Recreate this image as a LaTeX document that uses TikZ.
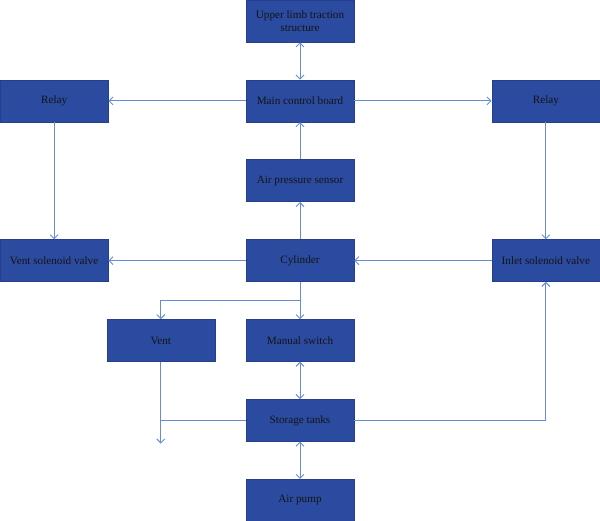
\documentclass[tikz,border=0pt]{standalone}
\usepackage{fontspec}
\setmainfont{Liberation Serif}
\usetikzlibrary{arrows.meta,positioning,calc}
\definecolor{boxblue}{RGB}{43,75,160}
\definecolor{boxedge}{RGB}{38,62,140}
\definecolor{linkblue}{RGB}{104,140,212}
\tikzset{
  blk/.style={rectangle, draw=boxedge, fill=boxblue, align=center, font=\fontsize{8.4pt}{10pt}\selectfont, text=black!92, minimum width=81pt, minimum height=31.5pt, inner sep=1pt},
  arr/.style={-{Straight Barb[length=3pt,width=6pt]}, draw=linkblue, line width=0.7pt},
  darr/.style={{Straight Barb[length=3pt,width=6pt]}-{Straight Barb[length=3pt,width=6pt]}, draw=linkblue, line width=0.7pt},
  ln/.style={draw=linkblue, line width=0.7pt}
}
\begin{document}
\begin{tikzpicture}[node distance=28pt and 103pt]
\useasboundingbox (0pt,0pt) rectangle (450pt,-390.75pt);

\node[blk] (limb) at (225pt,-15.75pt) {Upper limb traction\\structure};
\node[blk, below=of limb] (mcb) {Main control board};
\node[blk, left=of mcb] (relayl) {Relay};
\node[blk, right=of mcb] (relayr) {Relay};
\node[blk, below=of mcb] (aps) {Air pressure sensor};
\node[blk, below=of aps] (cyl) {Cylinder};
\node[blk, left=of cyl] (vsv) {Vent solenoid valve};
\node[blk, right=of cyl] (isv) {Inlet solenoid valve};
\node[blk, below=of cyl] (msw) {Manual switch};
\node[blk, left=23pt of msw] (vent) {Vent};
\node[blk, below=of msw] (tank) {Storage tanks};
\node[blk, below=of tank] (pump) {Air pump};

\coordinate (split) at ($(cyl.south)!0.5!(msw.north)$);
\coordinate (ventout) at ($(vent.south |- tank.south)+(0,-1.5pt)$);

\draw[darr] (limb) -- (mcb);
\draw[arr] (mcb) -- (relayl);
\draw[arr] (mcb) -- (relayr);
\draw[arr] (relayl) -- (vsv);
\draw[arr] (relayr) -- (isv);
\draw[arr] (aps) -- (mcb);
\draw[arr] (cyl) -- (aps);
\draw[arr] (cyl) -- (vsv);
\draw[arr] (isv) -- (cyl);
\draw[arr] (cyl) -- (msw);
\draw[arr] (split) -| (vent.north);
\draw[darr] (msw) -- (tank);
\draw[arr] (vent.south) -- (ventout);
\draw[ln] (tank.west) -- (tank.west -| vent.south);
\draw[arr] (tank.east) -| (isv.south);
\draw[darr] (tank) -- (pump);
\end{tikzpicture}
\end{document}
